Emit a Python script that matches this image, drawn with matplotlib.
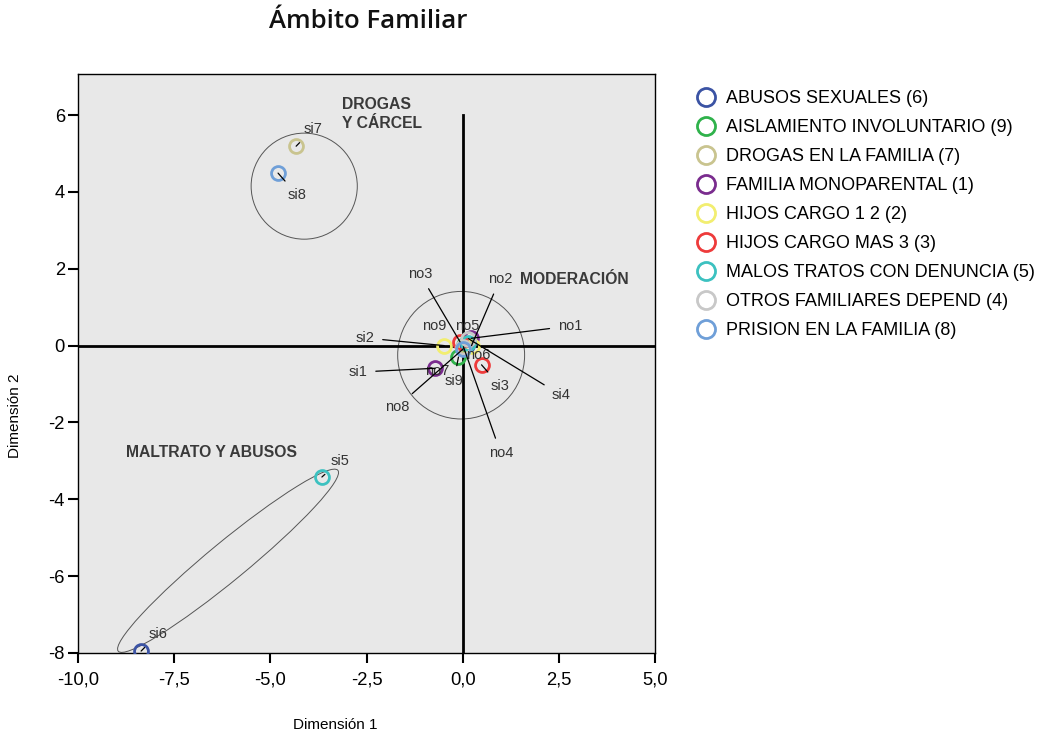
import matplotlib
matplotlib.use("Agg")
import matplotlib.pyplot as plt
from matplotlib.patches import Ellipse
from matplotlib.lines import Line2D

plt.rcParams['font.family'] = ['Liberation Sans', 'DejaVu Sans']
plt.rcParams['axes.unicode_minus'] = False

# ---- data ----
title = "Ámbito Familiar"
categories = ["ABUSOS SEXUALES (6)", "AISLAMIENTO INVOLUNTARIO (9)", "DROGAS EN LA FAMILIA (7)",
              "FAMILIA MONOPARENTAL (1)", "HIJOS CARGO 1 2 (2)", "HIJOS CARGO MAS 3 (3)",
              "MALOS TRATOS CON DENUNCIA (5)", "OTROS FAMILIARES DEPEND (4)", "PRISION EN LA FAMILIA (8)"]
cat_colors = ["#3b53a4", "#2fb24b", "#c9c48f", "#7a2c8e", "#f2ee70",
              "#ee3b3b", "#3cc1c0", "#c8c8c8", "#6f9fd8"]
var_num = [6, 9, 7, 1, 2, 3, 5, 4, 8]
# coordinates of "si" and "no" categories (Dimension 1, Dimension 2)
si_x = [-8.36, -0.11, -4.33, -0.72, -0.48, 0.49, -3.66, 0.15, -4.80]
si_y = [-7.95, -0.30, 5.19, -0.59, 0.00, -0.50, -3.42, 0.18, 4.49]
no_x = [0.10, 0.03, 0.05, 0.22, 0.23, -0.07, 0.14, 0.02, 0.02]
no_y = [0.02, 0.02, -0.02, 0.19, 0.00, 0.10, 0.08, -0.03, -0.08]

xticks = [-10, -7.5, -5, -2.5, 0, 2.5, 5]
xtick_labels = ["-10,0", "-7,5", "-5,0", "-2,5", "0,0", "2,5", "5,0"]
yticks = [-8, -6, -4, -2, 0, 2, 4, 6]

# label positions (text), keyed by label
label_pos = {
    "si1": (-2.72, -0.69), "no1": (2.79, 0.51),
    "si2": (-2.54, 0.20), "no2": (0.97, 1.73),
    "si3": (0.97, -1.05), "no3": (-1.11, 1.86),
    "si4": (2.56, -1.29), "no4": (0.99, -2.80),
    "si5": (-3.19, -3.00), "no5": (0.11, 0.51),
    "si6": (-7.92, -7.50), "no6": (0.40, -0.24),
    "si7": (-3.89, 5.64), "no7": (-0.67, -0.66),
    "si8": (-4.30, 3.92), "no8": (-1.71, -1.60),
    "si9": (-0.23, -0.92), "no9": (-0.75, 0.51),
}
no_line = {"no5", "no6", "no7", "no9"}

fig = plt.figure(figsize=(10.42, 7.36), dpi=100)
ax = fig.add_axes([0.0749, 0.1128, 0.5537, 0.7867])
ax.set_facecolor("#e8e8e8")
ax.set_xlim(-10, 5)
ax.set_ylim(-8, 7.07)

# reference lines
ax.plot([0, 0], [6, -8], color="black", lw=2, zorder=2)
ax.axhline(0, color="black", lw=2, zorder=2)

# group outlines
ax.add_patch(Ellipse((-4.12, 4.15), 2.76, 2.76, fill=False, ec="#555555", lw=0.7, zorder=1))
ax.add_patch(Ellipse((-0.04, -0.25), 3.30, 3.32, fill=False, ec="#555555", lw=0.7, zorder=1))
ax.add_patch(Ellipse((-6.10, -5.60), 7.4, 1.0, angle=39.5, fill=False, ec="#555555", lw=0.7, zorder=1))

grp_kw = dict(fontsize=11.3, fontweight="bold", color="#3a3a3a")
ax.text(-3.13, 6.47, "DROGAS\nY CÁRCEL", ha="left", va="top", linespacing=1.3, **grp_kw)
ax.text(1.49, 1.71, "MODERACIÓN", ha="left", va="center", **grp_kw)
ax.text(-8.75, -2.79, "MALTRATO Y ABUSOS", ha="left", va="center", **grp_kw)

# points and labels
for i in range(len(categories)):
    n = var_num[i]
    for pre, xs, ys in (("no", no_x, no_y), ("si", si_x, si_y)):
        ax.plot(xs[i], ys[i], marker="o", ms=10, mfc="none", mec=cat_colors[i], mew=2,
                ls="none", zorder=4)
        lab = f"{pre}{n}"
        lx, ly = label_pos[lab]
        if lab in no_line:
            ax.text(lx, ly, lab, ha="center", va="center", fontsize=10.5, color="#333333", zorder=6)
        else:
            ax.annotate(lab, xy=(xs[i], ys[i]), xytext=(lx, ly), ha="center", va="center",
                        fontsize=10.5, color="#333333", zorder=6,
                        arrowprops=dict(arrowstyle="-", color="black", lw=0.9,
                                        shrinkA=4, shrinkB=0))

ax.set_xticks(xticks)
ax.set_xticklabels(xtick_labels)
ax.set_yticks(yticks)
ax.tick_params(direction="out", length=7.5, width=1.5, labelsize=13.2, colors="black")
ax.tick_params(axis="x", pad=6)
ax.tick_params(axis="y", pad=2)
for s in ax.spines.values():
    s.set_linewidth(1)

fig.text(335 / 1042, 1 - 725 / 736, "Dimensión 1", fontsize=11, ha="center", va="center")
fig.text(15 / 1042, 1 - 416 / 736, "Dimensión 2", fontsize=11, ha="center", va="center",
         rotation=90)
fig.text(368 / 1042, 1 - 22 / 736, title, fontsize=18.5, ha="center", va="center",
         family=["Open Sans", "DejaVu Sans"], fontweight="semibold", color="#111111")

handles = [Line2D([], [], marker="o", ms=13, mfc="none", mec=c, mew=2, ls="none") for c in cat_colors]
fig.legend(handles, categories, loc="upper left", bbox_to_anchor=(0.660, 0.887),
           frameon=False, fontsize=13, labelspacing=0.665, handlelength=1.2,
           handletextpad=0.5, borderaxespad=0)

fig.savefig("out.png", dpi=100)
